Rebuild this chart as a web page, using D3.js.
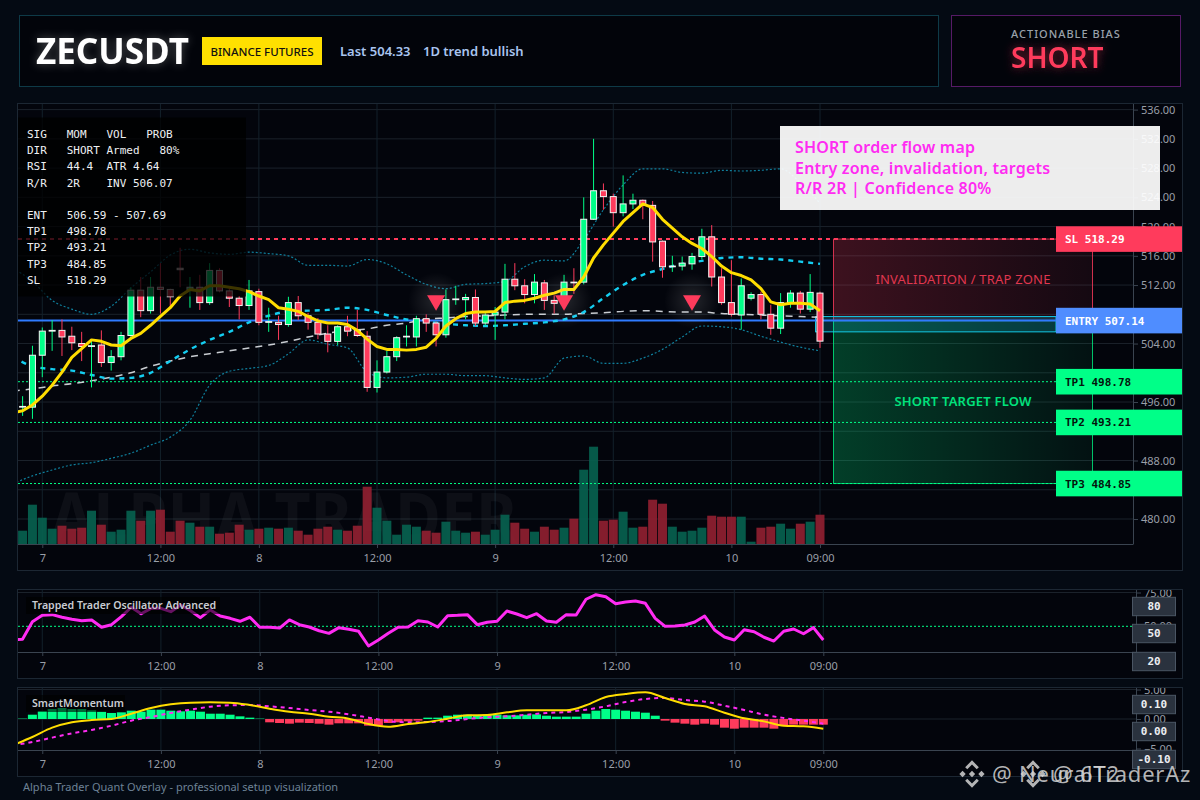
<!DOCTYPE html>
<html>
<head>
<meta charset="utf-8">
<title>ZECUSDT</title>
<script src="https://d3js.org/d3.v7.min.js"></script>
<style>
body { margin: 0; background: #040a13; }
svg { display: block; }
text { font-family: 'Noto Sans', sans-serif; }
.mono { font-family: 'DejaVu Sans Mono', monospace; }
.axis text { font-family: 'Noto Sans', sans-serif; font-size: 11px; fill: #9a9fa8; }
.axis line { stroke: #3a4450; }
.axis path { stroke: #3a4450; }
</style>
</head>
<body>
<svg width="1200" height="800"></svg>
<script>
// candle values, one per bar
const opens = [
	495.3,495.3,502.4,505.7,505.8,505.0,504.0,503.6,503.8,501.4,
	502.2,505.1,511.3,508.5,511.7,511.4,514.3,511.4,511.7,509.6,
	514.0,511.2,510.2,509.2,511.1,506.9,506.9,506.6,509.6,507.8,
	506.9,505.3,504.3,506.3,505.8,505.0,498.0,500.1,502.2,504.9,
	504.9,507.4,506.8,505.2,510.0,510.0,510.3,506.8,507.9,508.3,
	512.8,511.9,510.7,512.3,509.9,509.5,512.4,512.4,521.0,524.9,
	524.1,521.9,523.1,523.6,522.9,518.0,514.5,514.6,514.9,515.9,
	518.6,513.1,509.6,507.9,510.2,510.7,508.0,506.1,509.6,510.9,
	508.7,510.9];
const closes = [
	495.4,502.4,505.7,505.8,504.9,504.1,503.6,503.7,501.4,502.2,
	505.1,511.3,508.5,511.7,511.4,510.4,514.1,511.7,509.6,514.0,
	511.2,510.2,509.2,511.2,506.9,507.0,506.6,509.6,507.8,506.9,
	505.3,504.3,506.3,505.7,505.1,498.0,500.1,502.2,504.8,505.0,
	507.4,506.8,505.2,510.0,510.1,510.3,506.8,507.9,508.3,512.8,
	511.9,510.7,512.4,509.9,509.5,512.4,512.3,521.0,524.9,524.1,
	521.9,523.1,523.6,522.9,517.9,514.5,514.6,515.0,515.9,518.6,
	513.1,509.6,508.0,511.9,510.7,508.0,506.1,509.6,510.9,508.7,
	511.0,504.33];
const highs = [
	496.8,503.7,506.2,507.2,507.3,506.3,505.6,504.5,505.8,503.1,
	505.6,511.7,513.1,513.1,515.0,511.5,517.1,513.1,513.4,515.0,
	514.3,511.7,510.5,512.7,511.5,508.9,507.8,510.4,510.5,508.2,
	507.5,506.5,506.5,507.8,508.6,505.7,501.7,503.0,505.0,506.5,
	507.8,508.0,507.0,511.4,511.9,510.8,511.4,508.2,509.0,514.9,
	515.0,512.8,513.5,512.7,510.6,513.4,514.3,524.0,532.0,525.9,
	524.5,527.0,524.5,523.7,523.5,518.1,516.0,515.9,516.4,519.7,
	520.2,514.3,515.4,512.9,511.0,511.1,509.3,510.9,511.3,511.2,
	513.5,511.1];
const lows = [
	494.1,493.7,499.4,503.0,502.3,503.1,501.6,498.0,500.8,500.3,
	501.7,504.9,507.6,508.1,508.1,509.0,511.7,508.9,508.6,509.3,
	511.0,509.0,507.3,508.6,506.5,505.6,504.5,506.3,507.2,505.9,
	504.6,502.8,503.8,505.0,504.9,497.4,497.3,499.9,501.6,503.6,
	503.6,505.6,503.6,504.8,509.3,507.3,506.4,506.4,504.5,507.3,
	511.3,509.5,509.5,508.6,508.1,509.0,510.8,512.1,520.9,522.3,
	520.0,521.4,522.4,521.0,515.2,513.0,513.8,514.0,514.1,515.5,
	511.8,509.3,507.7,505.9,509.9,507.3,505.2,505.3,508.9,508.1,
	508.3,503.4];
const volumes = [
	13.3,39.3,26.3,15.3,18.3,15.3,16.3,33.3,19.3,12.3,
	14.3,33.3,23.3,33.3,34.3,12.3,23.3,21.3,17.3,17.3,
	10.3,11.3,19.3,14.3,15.3,16.3,15.3,16.3,13.3,9.3,
	15.3,17.3,14.3,13.3,18.3,57.3,36.3,23.3,9.3,19.3,
	17.3,13.3,11.3,22.3,13.3,11.3,12.3,9.3,14.3,29.3,
	21.3,15.3,12.3,17.3,14.3,16.3,25.3,74.3,97.3,23.3,
	24.3,32.3,16.3,17.3,44.3,40.3,17.3,12.3,13.3,16.3,
	28.3,27.3,27.3,27.3,2.3,16.3,17.3,20.3,15.3,20.3,
	22.3,29.3];

// fast average: first value is the bar before the visible window
const fastMa = [494.5,
	494.8,495.6,496.8,498.3,500.1,502.1,503.3,504.5,504.3,503.8,
	503.7,504.7,505.4,506.5,507.7,508.9,510.5,511.4,511.2,511.9,
	511.9,511.7,511.5,511.1,510.5,510.0,508.9,508.7,508.4,507.7,
	507.1,506.8,506.8,506.6,505.8,504.6,503.6,503.2,503.2,503.1,
	503.2,503.5,504.7,506.4,507.4,508.1,508.3,508.3,508.4,509.6,
	509.8,509.9,510.2,510.6,510.9,511.4,511.4,513.1,515.7,517.5,
	519.1,520.7,521.9,523.1,522.6,521.0,519.8,518.6,517.7,517.0,
	515.9,514.6,513.7,513.3,512.7,511.5,509.7,509.3,509.5,509.5,
	509.4,508.5];

// slower series, read every second bar starting one bar before the window
const midMa = [502.2,500.9,500.5,500.3,499.7,499.2,499.3,500.0,501.6,503.2,504.5,505.6,506.9,507.8,
	508.4,508.5,508.6,508.9,508.6,507.9,507.3,507.0,506.7,506.5,506.4,506.5,506.7,506.9,
	507.3,508.3,510.2,512.0,513.4,514.2,514.9,515.3,515.7,515.8,515.6,515.5,515.2,514.9];
const slowMa = [497.5,497.8,498.2,498.5,498.9,499.4,500.0,500.9,501.6,502.2,502.6,503.0,503.4,503.8,
	504.3,504.9,505.4,505.8,506.0,506.5,506.8,507.3,507.5,507.7,507.8,507.9,508.0,508.0,
	508.0,508.1,508.2,508.4,508.5,508.4,508.3,508.3,508.1,508.0,507.9,507.8,507.7,507.6];
const upperBand = [514.3,512.5,509.9,508.7,508.0,509.1,511.6,513.8,516.1,516.9,516.4,516.2,516.5,516.3,
	516.0,514.7,514.7,514.6,515.5,514.9,513.4,512.1,511.5,512.1,512.2,512.5,514.5,515.4,
	515.3,518.2,522.3,525.7,527.9,527.9,527.4,527.3,527.7,527.6,527.7,527.9,526.0,523.2];
const lowerBand = [484.8,485.9,486.7,487.4,487.7,488.3,489.0,490.1,491.2,493.5,498.3,500.2,500.6,501.0,
	502.6,504.5,503.9,503.4,500.1,499.3,499.4,499.8,499.8,499.6,499.6,499.3,499.1,499.3,
	502.0,502.3,501.3,501.3,502.0,503.2,504.9,506.4,506.3,505.9,505.0,504.2,503.5,503.0];

// trapped trader oscillator, same layout as fastMa
const oscValues = [39.9,
	40.4,53.4,58.1,58.6,56.7,55.2,54.1,54.7,49.3,51.2,
	57.1,64.1,59.3,63.3,63.3,60.8,65.8,61.5,56.4,62.1,
	57.6,55.9,53.7,56.7,49.3,49.3,48.7,54.7,51.2,49.5,
	46.7,44.8,49.0,47.8,46.3,35.4,39.9,44.8,49.3,49.5,
	54.1,53.2,49.5,57.8,58.1,58.6,51.2,53.0,53.7,61.3,
	59.1,56.4,59.3,53.9,53.0,58.6,58.4,70.0,73.4,71.9,
	66.7,68.0,68.7,67.0,55.9,50.0,50.2,51.0,53.2,57.6,
	47.3,42.1,39.9,47.5,46.0,41.9,39.1,46.3,48.0,44.5,
	49.0,39.9];

// smart momentum
const momHist = [
	0.06,0.73,1.36,1.69,1.86,1.69,1.69,1.47,1.24,1.02,
	1.13,1.41,1.24,1.58,1.58,1.41,1.30,1.41,1.24,0.90,
	0.90,0.73,0.45,0.23,0.06,-0.56,-0.68,-0.79,-0.62,-0.68,
	-0.79,-0.96,-0.73,-0.73,-0.73,-1.13,-1.13,-0.68,-0.56,-0.40,
	-0.28,0.23,0.23,0.56,0.73,0.73,0.62,0.73,0.73,0.62,
	0.62,0.73,0.79,0.56,0.40,0.40,0.40,0.90,1.41,1.69,
	1.58,1.41,1.24,1.07,0.56,-0.28,-0.62,-0.79,-0.96,-0.79,
	-0.96,-1.47,-1.64,-1.47,-1.47,-1.47,-1.64,-1.13,-0.96,-0.96,
	-0.96,-0.96];
const momLine = [-4.46,-3.05,-1.47,-0.56,-0.17,0,0.90,1.86,2.49,2.77,2.82,2.77,2.37,1.75,
	1.24,0.90,0.40,0.06,-0.85,-1.30,-0.85,-0.51,0.06,0.62,0.68,1.13,1.47,1.47,
	1.47,2.32,3.73,4.24,4.52,3.56,2.54,2.15,1.07,0.11,-0.40,-1.13,-1.24,-1.64];
const momSignal = [-4.46,-3.90,-3.16,-2.43,-1.86,-1.13,-0.28,0.34,1.02,1.58,2.09,2.32,2.37,2.15,
	1.86,1.53,1.24,0.79,0.23,-0.34,-0.56,-0.51,-0.34,0,0.28,0.45,0.73,1.02,
	1.19,1.58,2.15,2.88,3.39,3.56,3.22,2.94,2.26,1.53,0.73,0.17,-0.28,-0.79];

// axis ticks
const timeTickBars = [2,14,24,36,48,60,72,81];
const timeTickLabels = ["7","12:00","8","12:00","9","12:00","10","09:00"];
const priceTicks = [536,532,528,524,520,516,512,504,496,488,480];
const priceGrid = [536,532,528,524,520,516,512,508,504,500,496,492,488,484,480];

// trade levels
const slLevel = 518.29, entryLevel = 507.14, lastClose = 504.33;
const targetLevels = [498.78,493.21,484.85];
const targetNames = ["TP1","TP2","TP3"];
const entryZone = [505.6,507.69];
const signalBars = [42,55,68];
const signalPrice = 509.9;
const statsRows = [
	"SIG   MOM   VOL   PROB",
	"DIR   SHORT Armed   80%",
	"RSI   44.4  ATR 4.64",
	"R/R   2R    INV 506.07",
	"",
	"ENT   506.59 - 507.69",
	"TP1   498.78",
	"TP2   493.21",
	"TP3   484.85",
	"SL    518.29"];
const noteRows = ["SHORT order flow map","Entry zone, invalidation, targets","R/R 2R | Confidence 80%"];

const GREEN = "#00ff88", RED = "#ff3b5c", BLUE = "#2f7bff";

const svg = d3.select("svg");
const defs = svg.append("defs");

// soft glow for the big header words
function glow(id, dev, alpha) {
	const f = defs.append("filter").attr("id", id).attr("x", "-30%").attr("y", "-60%").attr("width", "160%").attr("height", "220%");
	f.append("feGaussianBlur").attr("in", "SourceGraphic").attr("stdDeviation", dev).attr("result", "b");
	f.append("feComponentTransfer").attr("in", "b").attr("result", "d")
		.append("feFuncA").attr("type", "linear").attr("slope", alpha);
	const m = f.append("feMerge");
	m.append("feMergeNode").attr("in", "d");
	m.append("feMergeNode").attr("in", "SourceGraphic");
}
glow("glowTitle", 5, 0.3);
glow("glowBias", 5, 0.5);

function fade(id, color, a0, a1) {
	const g = defs.append("linearGradient").attr("id", id);
	g.append("stop").attr("offset", "0%").attr("stop-color", color).attr("stop-opacity", a0);
	g.append("stop").attr("offset", "100%").attr("stop-color", color).attr("stop-opacity", a1);
}
fade("redFade", RED, 0.23, 0.07);
fade("greenFade", GREEN, 0.23, 0.05);

const halo = defs.append("radialGradient").attr("id", "halo");
halo.append("stop").attr("offset", "0%").attr("stop-color", "#fff").attr("stop-opacity", 0.13);
halo.append("stop").attr("offset", "100%").attr("stop-color", "#fff").attr("stop-opacity", 0);

function clip(id, x, y, w, h) {
	defs.append("clipPath").attr("id", id).append("rect").attr("x", x).attr("y", y).attr("width", w).attr("height", h);
}
clip("mainClip", 18, 104, 1115, 440);
clip("oscClip", 18, 590, 1118, 62);
clip("momClip", 18, 688, 1118, 62);
clip("oscAxisClip", 1130, 590, 52, 88);
clip("momAxisClip", 1130, 688, 52, 88);

// scales
const xMain = d3.scaleLinear([0,81],[22.6,820]);
const xSub = d3.scaleLinear([0,81],[22.5,823.3]);
const yPrice = d3.scaleLinear([480,536],[519,109.6]);
const yVol = d3.scaleLinear([0,100],[544,444]);
const yOsc = d3.scaleLinear([50,75],[626.3,592.5]);
const yMom = d3.scaleLinear([-5,5],[748.5,689.5]);

function box(x, y, w, h, fill, stroke) {
	return svg.append("rect").attr("x", x).attr("y", y).attr("width", w).attr("height", h)
		.attr("fill", fill).attr("stroke", stroke);
}

// header
box(19.5, 15.5, 919, 71, "#02040a", "#0e3a47");
box(951.5, 15.5, 229, 71, "#02040a", "#561a66");
svg.append("text").text("ZECUSDT").attr("x", 36).attr("y", 64).attr("fill", "#fff")
	.attr("font-size", 35).attr("font-weight", 700).attr("filter", "url(#glowTitle)");
box(202, 37, 120, 28, "#ffe000", "none");
svg.append("text").text("BINANCE FUTURES").attr("x", 262).attr("y", 55.5).attr("text-anchor", "middle")
	.attr("fill", "#111").attr("font-size", 11.5).attr("font-weight", 500);
svg.append("text").text("Last 504.33").attr("x", 340).attr("y", 56).attr("fill", "#a9c4ef").attr("font-size", 13).attr("font-weight", 600);
svg.append("text").text("1D trend bullish").attr("x", 423).attr("y", 56).attr("fill", "#a9c4ef").attr("font-size", 13).attr("font-weight", 600);
svg.append("text").text("ACTIONABLE BIAS").attr("x", 1011).attr("y", 38).attr("fill", "#9aa1aa")
	.attr("font-size", 11).attr("font-weight", 500).attr("letter-spacing", "1px");
svg.append("text").text("SHORT").attr("x", 1011).attr("y", 68).attr("fill", RED)
	.attr("font-size", 28).attr("font-weight", 600).attr("filter", "url(#glowBias)");

// panels
box(17.5, 103.5, 1165, 467, "#03050c", "#1c2733");
box(17.5, 589.5, 1165, 89, "#03050c", "#1c2733");
box(17.5, 687.5, 1165, 89, "#03050c", "#1c2733");

// main chart
const main = svg.append("g").attr("clip-path", "url(#mainClip)");

main.append("g").selectAll("line").data(priceGrid).join("line")
	.attr("x1", 18).attr("x2", 1133).attr("y1", d => yPrice(d)).attr("y2", d => yPrice(d))
	.attr("stroke", "#1b222b");
main.append("g").selectAll("line").data(timeTickBars).join("line")
	.attr("x1", d => xMain(d)).attr("x2", d => xMain(d)).attr("y1", 104).attr("y2", 544)
	.attr("stroke", "#13212b");

main.append("text").text("ALPHA TRADER").attr("x", 50).attr("y", 543)
	.attr("fill", "#fff").attr("fill-opacity", 0.045).attr("font-size", 70).attr("font-weight", 700)
	.attr("textLength", 467).attr("lengthAdjust", "spacingAndGlyphs");

// volume
main.append("g").selectAll("rect").data(volumes).join("rect")
	.attr("x", (d, i) => xMain(i) - 4.5).attr("width", 9)
	.attr("y", d => yVol(d)).attr("height", d => yVol(0) - yVol(d))
	.attr("fill", (d, i) => closes[i] >= opens[i] ? "#06614f" : "#8f2031").attr("fill-opacity", 0.92);

// trade zones
const zoneX0 = 833.5, zoneX1 = 1092.5;
main.append("rect").attr("x", zoneX0).attr("width", zoneX1 - zoneX0)
	.attr("y", yPrice(slLevel)).attr("height", yPrice(entryLevel) - yPrice(slLevel))
	.attr("fill", "url(#redFade)").attr("stroke", RED).attr("stroke-opacity", 0.8);
main.append("rect").attr("x", zoneX0).attr("width", zoneX1 - zoneX0)
	.attr("y", yPrice(entryLevel)).attr("height", yPrice(targetLevels[2]) - yPrice(entryLevel))
	.attr("fill", "url(#greenFade)").attr("stroke", GREEN).attr("stroke-opacity", 0.75);
main.append("rect").attr("x", 815.5).attr("width", 1056 - 815.5)
	.attr("y", yPrice(entryZone[1])).attr("height", yPrice(entryZone[0]) - yPrice(entryZone[1]))
	.attr("fill", "#14c8e6").attr("fill-opacity", 0.2).attr("stroke", "#14c8e6");
main.append("text").text("INVALIDATION / TRAP ZONE").attr("x", 963).attr("y", 284).attr("text-anchor", "middle")
	.attr("fill", "#e0374f").attr("font-size", 13).attr("letter-spacing", "0.2px");
main.append("text").text("SHORT TARGET FLOW").attr("x", 963).attr("y", 406).attr("text-anchor", "middle")
	.attr("fill", "#00e27c").attr("font-size", 13).attr("font-weight", 600).attr("letter-spacing", "0.2px");

// level lines
main.append("line").attr("x1", 18).attr("x2", 1056).attr("y1", yPrice(slLevel)).attr("y2", yPrice(slLevel))
	.attr("stroke", RED).attr("stroke-width", 2).attr("stroke-dasharray", "4,4");
main.append("line").attr("x1", 18).attr("x2", 1056).attr("y1", yPrice(entryLevel)).attr("y2", yPrice(entryLevel))
	.attr("stroke", BLUE).attr("stroke-width", 2);
main.append("g").selectAll("line").data(targetLevels).join("line")
	.attr("x1", 18).attr("x2", 1056).attr("y1", d => yPrice(d)).attr("y2", d => yPrice(d))
	.attr("stroke", GREEN).attr("stroke-width", 1).attr("stroke-dasharray", "2,2");

// overlay lines, first entry is one bar before the window
const denseLine = (xs, ys) => d3.line().x((d, i) => xs(i - 1)).y(d => ys(d)).curve(d3.curveMonotoneX);
const sparseLine = (xs, ys) => d3.line().x((d, i) => xs(i * 2 - 1)).y(d => ys(d)).curve(d3.curveMonotoneX);

[upperBand, lowerBand].forEach(b => {
	main.append("path").attr("d", sparseLine(xMain, yPrice)(b)).attr("fill", "none")
		.attr("stroke", "#0f7f9c").attr("stroke-width", 1.2).attr("stroke-dasharray", "2,2");
});
main.append("path").attr("d", sparseLine(xMain, yPrice)(slowMa)).attr("fill", "none")
	.attr("stroke", "#c9cdd2").attr("stroke-width", 1.5).attr("stroke-dasharray", "7,6");
main.append("path").attr("d", sparseLine(xMain, yPrice)(midMa)).attr("fill", "none")
	.attr("stroke", "#14cdf0").attr("stroke-width", 2.4).attr("stroke-dasharray", "5,5");

// candles
const candles = main.append("g").selectAll("g").data(opens).join("g");
candles.append("line")
	.attr("x1", (d, i) => xMain(i)).attr("x2", (d, i) => xMain(i))
	.attr("y1", (d, i) => yPrice(highs[i])).attr("y2", (d, i) => yPrice(lows[i]))
	.attr("stroke", (d, i) => closes[i] >= d ? GREEN : RED);
candles.append("rect")
	.attr("x", (d, i) => xMain(i) - 3).attr("width", 6)
	.attr("y", (d, i) => yPrice(Math.max(d, closes[i])))
	.attr("height", (d, i) => Math.abs(yPrice(d) - yPrice(closes[i])))
	.attr("fill", (d, i) => closes[i] >= d ? GREEN : RED)
	.attr("stroke", "#f4f4f4").attr("stroke-width", 1);

main.append("path").attr("d", denseLine(xMain, yPrice).curve(d3.curveLinear)(fastMa)).attr("fill", "none")
	.attr("stroke", "#ffdd00").attr("stroke-width", 3).attr("stroke-linejoin", "round");

// short signals
const marks = main.append("g").selectAll("g").data(signalBars).join("g")
	.attr("transform", d => "translate(" + xMain(d) + "," + yPrice(signalPrice) + ")");
marks.append("circle").attr("r", 28).attr("fill", "url(#halo)");
marks.append("path").attr("d", d3.symbol(d3.symbolTriangle, 140)()).attr("transform", "rotate(180)").attr("fill", RED);

// stats table sits over the chart
svg.append("rect").attr("x", 18).attr("y", 117.5).attr("width", 228).attr("height", 179)
	.attr("fill", "#000").attr("fill-opacity", 0.76);
svg.append("g").selectAll("text").data(statsRows).join("text").attr("class", "mono")
	.text(d => d).attr("x", 27).attr("y", (d, i) => 138 + i * 16.2)
	.attr("fill", "#eef0f3").attr("font-size", 11).style("white-space", "pre");

// price axis
const priceAxis = svg.append("g").attr("class", "axis").attr("transform", "translate(1133,0)")
	.call(d3.axisRight(yPrice).tickValues(priceTicks).tickFormat(d3.format(".2f")).tickSize(5).tickPadding(3));
priceAxis.select("path").attr("d", "M0.5,104V544.5");

function timeAxis(xs, y) {
	const g = svg.append("g").attr("class", "axis").attr("transform", "translate(0," + y + ")")
		.call(d3.axisBottom(xs).tickValues(timeTickBars).tickFormat((d, i) => timeTickLabels[i]).tickSize(4).tickPadding(6));
	return g;
}
timeAxis(xMain, 544).select("path").attr("d", "M18,0.5H1133");

// note box
box(780, 126, 380, 84, "#fff", "none").attr("fill-opacity", 0.93);
svg.append("g").selectAll("text").data(noteRows).join("text").text(d => d)
	.attr("x", 795).attr("y", (d, i) => 153 + i * 20.6).attr("fill", "#ff2bf2").attr("font-size", 16)
	.attr("font-weight", 600).attr("letter-spacing", "0.2px");

// level tags
function tag(y, fill, color, label) {
	box(1056, y - 12.8, 126, 25.6, fill, "none");
	svg.append("text").attr("class", "mono").text(label).attr("x", 1065).attr("y", y + 4)
		.attr("fill", color).attr("font-size", 11).attr("font-weight", 700);
}
tag(yPrice(slLevel), RED, "#fff", "SL " + slLevel.toFixed(2));
tag(yPrice(entryLevel), "#4f8dff", "#fff", "ENTRY " + entryLevel.toFixed(2));
targetLevels.forEach((d, i) => tag(yPrice(d), GREEN, "#04140c", targetNames[i] + " " + d.toFixed(2)));

// oscillator panel
const osc = svg.append("g").attr("clip-path", "url(#oscClip)");
osc.append("line").attr("x1", 18).attr("x2", 1136).attr("y1", yOsc(75)).attr("y2", yOsc(75)).attr("stroke", "#1b222b");
osc.append("g").selectAll("line").data(timeTickBars).join("line")
	.attr("x1", d => xSub(d)).attr("x2", d => xSub(d)).attr("y1", 590).attr("y2", 652).attr("stroke", "#13212b");
osc.append("line").attr("x1", 18).attr("x2", 1132).attr("y1", yOsc(50)).attr("y2", yOsc(50))
	.attr("stroke", GREEN).attr("stroke-dasharray", "2,2");
osc.append("path").attr("d", denseLine(xSub, yOsc).curve(d3.curveLinear)(oscValues)).attr("fill", "none")
	.attr("stroke", "#ff2bf2").attr("stroke-width", 3).attr("stroke-linejoin", "round");

const oscAxis = svg.append("g").attr("clip-path", "url(#oscAxisClip)").append("g")
	.attr("class", "axis").attr("transform", "translate(1136,0)")
	.call(d3.axisRight(yOsc).tickValues([75,50]).tickFormat(d3.format(".2f")).tickSize(5).tickPadding(3));
oscAxis.select("path").attr("d", "M0.5,590V652.5");
timeAxis(xSub, 652).select("path").attr("d", "M18,0.5H1136");

// momentum panel
const mom = svg.append("g").attr("clip-path", "url(#momClip)");
mom.append("g").selectAll("line").data([5,0]).join("line")
	.attr("x1", 18).attr("x2", 1136).attr("y1", d => yMom(d)).attr("y2", d => yMom(d)).attr("stroke", "#1b222b");
mom.append("g").selectAll("line").data(timeTickBars).join("line")
	.attr("x1", d => xSub(d)).attr("x2", d => xSub(d)).attr("y1", 688).attr("y2", 750).attr("stroke", "#13212b");
mom.append("g").selectAll("rect").data(momHist).join("rect")
	.attr("x", (d, i) => xSub(i) - 4.5).attr("width", 9)
	.attr("y", d => Math.min(yMom(d), yMom(0))).attr("height", d => Math.abs(yMom(d) - yMom(0)))
	.attr("fill", d => d >= 0 ? GREEN : RED);
mom.append("path").attr("d", sparseLine(xSub, yMom)(momSignal)).attr("fill", "none")
	.attr("stroke", "#ff2bf2").attr("stroke-width", 2).attr("stroke-dasharray", "4,4");
mom.append("path").attr("d", sparseLine(xSub, yMom)(momLine)).attr("fill", "none")
	.attr("stroke", "#ffdd00").attr("stroke-width", 2);

const momAxis = svg.append("g").attr("clip-path", "url(#momAxisClip)").append("g")
	.attr("class", "axis").attr("transform", "translate(1136,0)")
	.call(d3.axisRight(yMom).tickValues([5,0,-5]).tickFormat(d3.format(".2f")).tickSize(5).tickPadding(3));
momAxis.select("path").attr("d", "M0.5,688V750.5");
timeAxis(xSub, 750).select("path").attr("d", "M18,0.5H1136");

// panel caption and range boxes
function caption(label, w, y) {
	svg.append("rect").attr("x", 26).attr("y", y - 8).attr("width", w).attr("height", 17)
		.attr("fill", "#000").attr("fill-opacity", 0.6);
	svg.append("text").text(label).attr("x", 32).attr("y", y + 4).attr("fill", "#c9ccd2").attr("font-size", 10.6).attr("font-weight", 600);
}
caption("Trapped Trader Oscillator Advanced", 194, 605);
caption("SmartMomentum", 99, 703);

function rangeBox(y, label) {
	box(1132.5, y, 43, 18.4, "#2a323e", "#4a5563");
	svg.append("text").attr("class", "mono").text(label).attr("x", 1154).attr("y", y + 13)
		.attr("text-anchor", "middle").attr("fill", "#eceef1").attr("font-size", 11).attr("font-weight", 700);
}
rangeBox(597.3, "80"); rangeBox(624.3, "50"); rangeBox(652.3, "20");
rangeBox(695.3, "0.10"); rangeBox(722.3, "0.00"); rangeBox(750.3, "-0.10");

svg.append("text").text("Alpha Trader Quant Overlay - professional setup visualization")
	.attr("x", 23).attr("y", 791).attr("fill", "#6d8296").attr("font-size", 11);

// corner watermark, two stamps overlapping
function stamp(x, label) {
	const g = svg.append("g").attr("fill", "#d4d4d4").attr("fill-opacity", 0.85);
	const logo = g.append("g").attr("transform", "translate(" + x + ",774) scale(1.05)");
	["M0,-3L3,0L0,3L-3,0Z", "M-12,0L-9,-3L-6,0L-9,3Z", "M12,0L9,-3L6,0L9,3Z",
	 "M0,-13L6.5,-6.5L4.5,-4.5L0,-9L-4.5,-4.5L-6.5,-6.5Z", "M0,13L6.5,6.5L4.5,4.5L0,9L-4.5,4.5L-6.5,6.5Z"]
		.forEach(p => logo.append("path").attr("d", p));
	g.append("text").text(label).attr("x", x + 20).attr("y", 782).attr("font-size", 22).attr("letter-spacing", "0.8px");
}
stamp(972, "@ NeuralTraderAz");
stamp(1033, "@ 6T2");
</script>
</body>
</html>
